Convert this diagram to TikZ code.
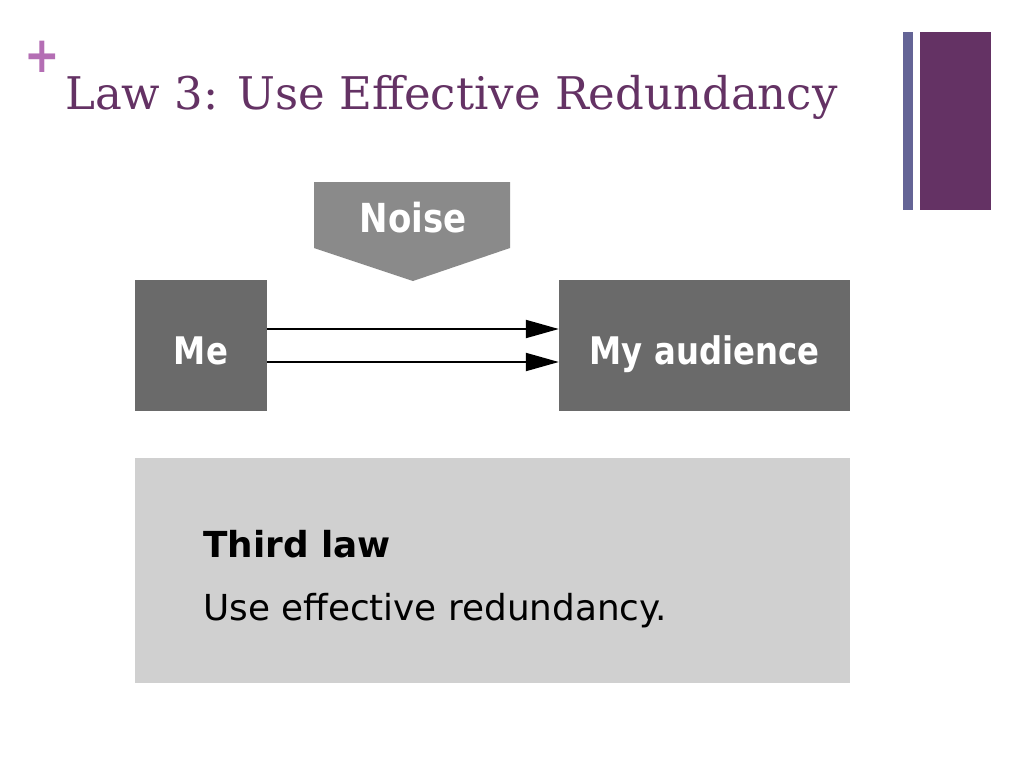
\documentclass[tikz,border=0pt]{standalone}
\usepackage{fontspec}
\usepackage{tikz}
\usetikzlibrary{arrows.meta}
\newfontfamily\titlefont{DejaVu Serif}
\newfontfamily\labelfont[FakeStretch=0.85]{DejaVu Sans Bold}
\newfontfamily\lawfont{DejaVu Sans}
\definecolor{plum}{RGB}{100,50,100}
\definecolor{orchid}{RGB}{180,110,180}
\definecolor{slate}{RGB}{100,100,150}
\definecolor{darkdots}{RGB}{106,106,106}
\definecolor{middots}{RGB}{138,138,138}
\definecolor{lightdots}{RGB}{208,208,208}
\begin{document}
\begin{tikzpicture}[line cap=round,line join=round,>={Triangle[length=33pt,width=18pt]},x=1pt,y=-1pt,
	darkbox/.style={fill=darkdots,inner sep=0pt,text=white,font=\labelfont\fontsize{38}{40}\selectfont,text height=38pt,text depth=0pt},
	lawtext/.style={anchor=base west,inner sep=0pt,font=\lawfont\fontsize{35.8}{40}\selectfont}]
		\useasboundingbox[fill=white] (0,0) rectangle (1024,768);
		%\draw[help lines,step=50] (0,0) grid (1024,768);
		\node[text=orchid,font=\labelfont\fontsize{50}{50}\selectfont,inner sep=0pt] (plus) at (42,57) {+};
		\node[anchor=base west,inner sep=0pt,text=plum,font=\titlefont\fontsize{45}{50}\selectfont] (title) at (65,109) {Law 3: Use Effective Redundancy};
		\fill[slate] (903,32) rectangle (913,210);
		\fill[plum] (920,32) rectangle (991,210);
		% noise
		\fill[middots] (314,182) -- (510,182) -- (510,248) -- (413,281) -- (314,248) -- cycle;
		\node[anchor=base,inner sep=0pt,text=white,font=\labelfont\fontsize{40}{40}\selectfont] (noise) at (413,232) {Noise};
		% sender and receiver
		\node[darkbox,minimum width=132,minimum height=131] (me) at (201,345.5) {Me};
		\node[darkbox,minimum width=291,minimum height=131] (aud) at (704.5,345.5) {My audience};
		\foreach \dy in {16.5,-16.5}
		\draw[->,line width=2pt,line cap=butt] ([yshift=\dy pt]me.east) -- ([yshift=\dy pt]aud.west);
		% law box
		\node[fill=lightdots,inner sep=0pt,minimum width=715,minimum height=225] (law) at (492.5,570.5) {};
		\node[lawtext,font=\lawfont\bfseries\fontsize{35.8}{40}\selectfont] (lawname) at (203,557) {Third law};
		\node[lawtext] (lawrule) at (203,620) {Use effective redundancy.};
		\end{tikzpicture}
\end{document}
